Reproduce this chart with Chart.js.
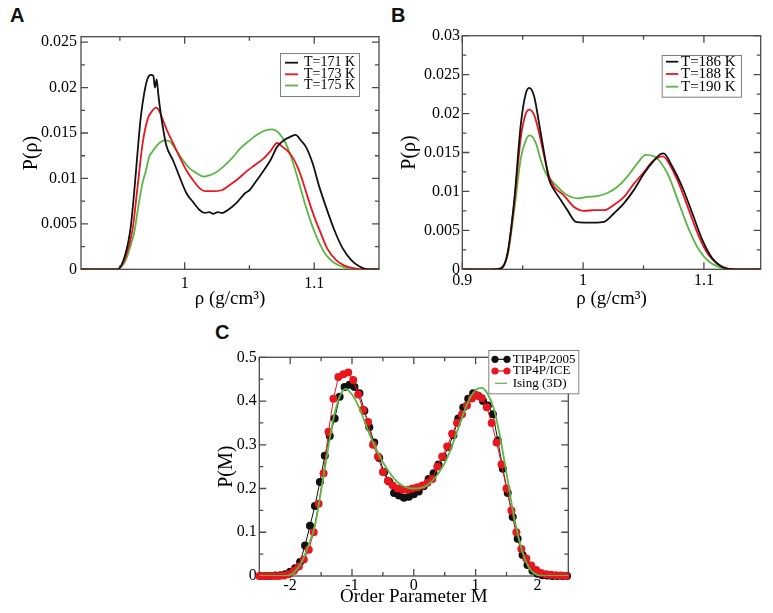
<!DOCTYPE html>
<html><head><meta charset="utf-8">
<script src="https://cdn.jsdelivr.net/npm/chart.js@4/dist/chart.umd.min.js"></script>
<style>
body{margin:0;width:773px;height:613px;background:#fff;position:relative;overflow:hidden;}
canvas{position:absolute;}
.lab{position:absolute;font:bold 20px "Liberation Sans",Arial,sans-serif;line-height:20px;color:#111;}
</style></head><body>
<div class="lab" style="left:10px;top:5px">A</div>
<div class="lab" style="left:391px;top:5px">B</div>
<div class="lab" style="left:215px;top:322px">C</div>
<canvas id="ca" width="390" height="312" style="left:0;top:0"></canvas>
<canvas id="cb" width="388" height="312" style="left:385px;top:0"></canvas>
<canvas id="cc" width="400" height="295" style="left:200px;top:318px"></canvas>
<script>
// ---------- Panel A data ----------
const rhoA171 = [0.92,0.948,0.9545,0.9584,0.961,0.9636,0.9662,0.9688,0.9714,0.974,0.9758,0.9771,0.9784,0.9797,0.9815,0.983,0.9857,0.991,0.996,1.0013,1.0065,1.0117,1.0156,1.019,1.022,1.0255,1.0286,1.035,1.04,1.0468,1.05,1.0532,1.0597,1.0662,1.0714,1.0766,1.0818,1.0857,1.0896,1.0935,1.0987,1.1039,1.109,1.1156,1.122,1.1286,1.135,1.1416,1.15];
const pA171   = [0,0,0.0018,0.0047,0.0084,0.0128,0.0168,0.0194,0.021,0.0214,0.0213,0.0200,0.0209,0.0192,0.0172,0.0158,0.0137,0.012,0.0102,0.0084,0.0074,0.0065,0.0062,0.0063,0.0061,0.0063,0.0062,0.0067,0.0073,0.0084,0.0087,0.0093,0.0106,0.012,0.0135,0.0142,0.0146,0.0148,0.0142,0.0135,0.0117,0.0091,0.0069,0.0043,0.0023,0.001,0.0003,0,0];
const rhoA173 = [0.92,0.948,0.9545,0.9597,0.9636,0.9675,0.9714,0.9753,0.978,0.9805,0.983,0.987,0.991,0.996,1.0013,1.0065,1.0117,1.0156,1.022,1.0286,1.035,1.0416,1.048,1.0545,1.061,1.0662,1.0714,1.0753,1.079,1.083,1.087,1.0909,1.0948,1.1,1.105,1.11,1.1169,1.1234,1.131,1.14,1.15];
const pA173   = [0,0,0.0014,0.0043,0.009,0.0138,0.0165,0.0175,0.0178,0.0174,0.0165,0.0151,0.0139,0.0124,0.0109,0.0098,0.0089,0.0086,0.0086,0.0087,0.0093,0.01,0.0108,0.0115,0.0122,0.013,0.0139,0.0135,0.0131,0.0124,0.0113,0.0098,0.008,0.0058,0.004,0.0023,0.001,0.0004,0.0001,0,0];
const rhoA175 = [0.92,0.948,0.9545,0.9597,0.961,0.9649,0.9675,0.97,0.9727,0.9753,0.9805,0.9844,0.9883,0.9935,0.9987,1.0039,1.0091,1.0143,1.0182,1.0234,1.0299,1.0364,1.0429,1.0494,1.0558,1.0623,1.0675,1.0727,1.0779,1.083,1.0883,1.0935,1.0987,1.1039,1.109,1.1156,1.1234,1.131,1.15];
const pA175   = [0,0,0.001,0.0033,0.004,0.0075,0.0095,0.0108,0.0124,0.013,0.0139,0.0142,0.0141,0.0131,0.012,0.0111,0.0106,0.0102,0.0103,0.0106,0.0113,0.0122,0.0133,0.0141,0.0148,0.0153,0.0154,0.015,0.0139,0.012,0.0095,0.0069,0.0047,0.0029,0.0016,0.0007,0.0002,0,0];
const labelsA = ['T=171 K','T=173 K','T=175 K'];
const xTickLabelsA = [1, 1.1];
const yTickLabelsA = [0, 0.005, 0.01, 0.015, 0.02, 0.025];
const xMinorA = [0.95, 1.05];
const yMinorA = [0.0025, 0.0075, 0.0125, 0.0175, 0.0225];

// ---------- Panel B data ----------
const rhoB186 = [0.9,0.925,0.932,0.9375,0.943,0.9485,0.9526,0.9554,0.9595,0.9636,0.9678,0.9719,0.976,0.9815,0.987,0.9939,1.0008,1.009,1.0174,1.0256,1.0339,1.0421,1.0504,1.0587,1.0642,1.0665,1.0738,1.082,1.0904,1.0986,1.1069,1.115,1.125,1.15];
const pB186   = [0,0,0.0001,0.0021,0.0089,0.0187,0.0226,0.0233,0.0222,0.0187,0.0149,0.0115,0.0102,0.0089,0.0076,0.0061,0.006,0.006,0.0061,0.0072,0.0085,0.0102,0.0123,0.014,0.0148,0.0149,0.0132,0.0106,0.0072,0.0038,0.0014,0.0003,0,0];
const rhoB188 = [0.9,0.925,0.932,0.9375,0.943,0.9485,0.9526,0.9554,0.9595,0.9636,0.9678,0.9719,0.976,0.984,0.9925,1.0008,1.009,1.0174,1.0256,1.0339,1.0421,1.0504,1.0559,1.0614,1.066,1.0711,1.0793,1.0876,1.0959,1.104,1.1124,1.12,1.13,1.15];
const pB188   = [0,0,0.0001,0.002,0.0085,0.017,0.02,0.0205,0.0198,0.0175,0.0145,0.0119,0.0106,0.0095,0.008,0.0075,0.0076,0.0076,0.0083,0.0093,0.011,0.0125,0.0136,0.0143,0.0145,0.0136,0.011,0.0076,0.0042,0.0018,0.0006,0.0001,0,0];
const rhoB190 = [0.9,0.925,0.932,0.9375,0.943,0.9485,0.9526,0.956,0.9609,0.965,0.9692,0.9733,0.9788,0.987,0.9953,1.0036,1.0118,1.0201,1.0284,1.0366,1.0449,1.0518,1.0587,1.0628,1.071,1.0793,1.0876,1.0959,1.104,1.1124,1.12,1.15];
const pB190   = [0,0,0.0002,0.0018,0.0076,0.0143,0.0166,0.0172,0.0162,0.014,0.0123,0.0115,0.0106,0.0095,0.0091,0.0093,0.0094,0.0098,0.0106,0.0119,0.0136,0.0147,0.0145,0.014,0.0119,0.0085,0.0051,0.0025,0.001,0.0003,0,0];
const labelsB = ['T=186 K','T=188 K','T=190 K'];
const xTickLabelsB = [0.9, 1, 1.1];
const yTickLabelsB = [0, 0.005, 0.01, 0.015, 0.02, 0.025, 0.03];
const xMinorB = [0.95, 1.05];
const yMinorB = [0.0025, 0.0075, 0.0125, 0.0175, 0.0225, 0.0275];

// ---------- Panel C data ----------
const mTip2005 = [-2.48,-2.40,-2.32,-2.24,-2.16,-2.08,-2.00,-1.92,-1.84,-1.76,-1.68,-1.60,-1.52,-1.44,-1.36,-1.28,-1.20,-1.12,-1.04,-0.96,-0.88,-0.80,-0.72,-0.64,-0.56,-0.48,-0.40,-0.32,-0.24,-0.16,-0.08,0.00,0.08,0.16,0.24,0.32,0.40,0.48,0.56,0.64,0.72,0.80,0.88,0.96,1.04,1.12,1.20,1.28,1.36,1.44,1.52,1.60,1.68,1.76,1.84,1.92,2.00,2.08,2.16,2.24,2.32,2.40,2.48];
const pTip2005 = [0,0,0,0.001,0.002,0.004,0.01,0.018,0.032,0.07,0.115,0.16,0.215,0.275,0.32,0.36,0.41,0.432,0.437,0.432,0.418,0.378,0.34,0.305,0.27,0.238,0.216,0.19,0.184,0.179,0.181,0.187,0.193,0.205,0.222,0.235,0.255,0.272,0.295,0.322,0.36,0.385,0.405,0.418,0.412,0.4,0.39,0.37,0.31,0.245,0.19,0.135,0.085,0.048,0.025,0.012,0.005,0.002,0.001,0,0,0,0];
const mTipIce = [-2.50,-2.42,-2.34,-2.26,-2.18,-2.10,-2.02,-1.94,-1.86,-1.78,-1.70,-1.62,-1.54,-1.46,-1.38,-1.30,-1.22,-1.14,-1.06,-0.98,-0.90,-0.82,-0.74,-0.66,-0.58,-0.50,-0.42,-0.34,-0.26,-0.18,-0.10,-0.02,0.06,0.14,0.22,0.30,0.38,0.46,0.54,0.62,0.70,0.78,0.86,0.94,1.02,1.10,1.18,1.26,1.34,1.42,1.50,1.58,1.66,1.74,1.82,1.90,1.98,2.06,2.14,2.22,2.30,2.38,2.46];
const pTipIce = [0,0,0,0,0,0.001,0.004,0.012,0.022,0.038,0.06,0.1,0.165,0.235,0.33,0.405,0.455,0.461,0.465,0.448,0.415,0.38,0.352,0.3,0.273,0.238,0.218,0.207,0.2,0.197,0.197,0.2,0.203,0.207,0.213,0.222,0.25,0.273,0.296,0.325,0.35,0.37,0.39,0.406,0.413,0.407,0.386,0.35,0.305,0.255,0.2,0.15,0.1,0.062,0.04,0.024,0.014,0.007,0.004,0.003,0.002,0.001,0];
const mIsing = [-2.5,-2.1,-2.0,-1.9,-1.8,-1.7,-1.6,-1.5,-1.4,-1.3,-1.2,-1.1,-1.0,-0.9,-0.8,-0.7,-0.6,-0.5,-0.4,-0.3,-0.2,-0.1,0,0.1,0.2,0.3,0.4,0.5,0.6,0.7,0.8,0.9,1.0,1.1,1.2,1.3,1.4,1.5,1.6,1.7,1.8,1.9,2.0,2.1,2.5];
const pIsing = [0,0,0.002,0.014,0.036,0.072,0.115,0.195,0.28,0.36,0.41,0.428,0.415,0.39,0.355,0.318,0.288,0.26,0.238,0.22,0.208,0.202,0.2,0.201,0.206,0.218,0.235,0.258,0.29,0.33,0.37,0.405,0.425,0.43,0.415,0.38,0.315,0.235,0.152,0.085,0.038,0.012,0.002,0,0];
const labelsC = ['TIP4P/2005','TIP4P/ICE','Ising (3D)'];
const xTickLabelsC = [-2, -1, 0, 1, 2];
const yTickLabelsC = [0, 0.1, 0.2, 0.3, 0.4, 0.5];
const xMinorC = [-2.5, -1.5, -0.5, 0.5, 1.5, 2.5];
const yMinorC = [0.05, 0.15, 0.25, 0.35, 0.45];

// ---------- styling ----------
const SERIF = "'Liberation Serif','Times New Roman',serif";
const BLACK = '#111111', RED = '#e8161e', GREEN = '#5cb544';
const zip = (xs, ys) => xs.map((x, i) => ({x, y: ys[i]}));
const fmt = v => String(+(+v).toFixed(4));

const framePlugin = {
  id: 'frame',
  beforeDatasetsDraw(chart, args, o) {
    const {ctx, chartArea: a} = chart;
    const xs = chart.scales.x, ys = chart.scales.y;
    ctx.save();
    ctx.strokeStyle = '#4a4a4a'; ctx.lineWidth = 1.3;
    ctx.beginPath();
    const seg = (x1, y1, x2, y2) => { ctx.moveTo(x1, y1); ctx.lineTo(x2, y2); };
    [[o.xMajor, 7], [o.xMinor, 4]].forEach(([vals, len]) => vals.forEach(v => {
      const p = xs.getPixelForValue(v);
      seg(p, a.bottom, p, a.bottom - len); seg(p, a.top, p, a.top + len);
    }));
    [[o.yMajor, 7], [o.yMinor, 4]].forEach(([vals, len]) => vals.forEach(v => {
      const p = ys.getPixelForValue(v);
      seg(a.left, p, a.left + len, p); seg(a.right, p, a.right - len, p);
    }));
    ctx.stroke();
    ctx.strokeRect(a.left, a.top, a.right - a.left, a.bottom - a.top);
    ctx.restore();
  }
};

const legendPlugin = {
  id: 'boxLegend',
  afterDatasetsDraw(chart, args, o) {
    const ctx = chart.ctx;
    ctx.save();
    ctx.fillStyle = '#fff';
    ctx.fillRect(o.x0, o.y0, o.x1 - o.x0, o.y1 - o.y0);
    ctx.strokeStyle = '#808080'; ctx.lineWidth = 1;
    ctx.strokeRect(o.x0 + 0.5, o.y0 + 0.5, o.x1 - o.x0, o.y1 - o.y0);
    chart.data.datasets.forEach((ds, i) => {
      const y = o.rows[i];
      ctx.strokeStyle = ds.borderColor; ctx.lineWidth = o.lw;
      ctx.beginPath(); ctx.moveTo(o.s0, y); ctx.lineTo(o.s1, y); ctx.stroke();
      if (ds.pointRadius > 0) {
        ctx.fillStyle = ds.borderColor;
        [o.s0, o.s1].forEach(px => { ctx.beginPath(); ctx.arc(px, y, 3.6, 0, Math.PI * 2); ctx.fill(); });
      }
      ctx.fillStyle = '#000'; ctx.font = o.font; ctx.textBaseline = 'middle'; ctx.textAlign = 'left';
      ctx.fillText(ds.label, o.tx, y);
    });
    ctx.restore();
  }
};

function lineDs(label, xs, ys, color) {
  return {label, data: zip(xs, ys), borderColor: color, backgroundColor: color, borderWidth: 1.8,
    pointRadius: 0, showLine: true, cubicInterpolationMode: 'monotone', fill: false};
}

function axes(o) {
  return {
    x: {type: 'linear', min: o.xmin, max: o.xmax,
      afterFit(s) { s.height = o.xH; },
      afterBuildTicks(s) { s.ticks = o.xLabels.map(v => ({value: v})); },
      ticks: {callback: fmt, font: {family: SERIF, size: 16}, color: '#000', padding: o.xPad, maxRotation: 0, autoSkip: false},
      grid: {display: false, drawTicks: false}, border: {display: false},
      title: {display: true, text: o.xTitle, font: {family: SERIF, size: o.xTitleSize}, color: '#000', padding: 0}},
    y: {type: 'linear', min: o.ymin, max: o.ymax,
      afterFit(s) { s.width = o.yW; },
      afterBuildTicks(s) { s.ticks = o.yLabels.map(v => ({value: v})); },
      ticks: {callback: fmt, font: {family: SERIF, size: 16}, color: '#000', padding: o.yPad, autoSkip: false},
      grid: {display: false, drawTicks: false}, border: {display: false},
      title: {display: true, text: o.yTitle, font: {family: SERIF, size: 20}, color: '#000', padding: 0}}
  };
}

const common = {responsive: false, animation: false, events: [],
  plugins: {legend: {display: false}, tooltip: {enabled: false}}};

// Panel A
new Chart(document.getElementById('ca'), {
  type: 'scatter',
  data: {datasets: [lineDs(labelsA[0], rhoA171, pA171, BLACK), lineDs(labelsA[1], rhoA173, pA173, RED), lineDs(labelsA[2], rhoA175, pA175, GREEN)]},
  options: Object.assign({}, common, {
    layout: {padding: {left: 20, top: 36.7, right: 11, bottom: 1.6}},
    scales: axes({xmin: 0.92, xmax: 1.15, ymin: 0, ymax: 0.0256, xLabels: xTickLabelsA, yLabels: yTickLabelsA,
      xH: 41.1, yW: 61, xPad: 5, yPad: 4, xTitle: 'ρ (g/cm³)', xTitleSize: 19, yTitle: 'P(ρ)'}),
    plugins: Object.assign({}, common.plugins, {
      frame: {xMajor: xTickLabelsA, xMinor: xMinorA, yMajor: yTickLabelsA, yMinor: yMinorA},
      boxLegend: {x0: 280, y0: 53, x1: 359, y1: 96, rows: [62.7, 74.3, 85.5], s0: 285, s1: 298, tx: 304, lw: 1.8, font: '14px ' + SERIF}
    })
  }),
  plugins: [framePlugin, legendPlugin]
});

// Panel B
new Chart(document.getElementById('cb'), {
  type: 'scatter',
  data: {datasets: [lineDs(labelsB[0], rhoB186, pB186, BLACK), lineDs(labelsB[1], rhoB188, pB188, RED), lineDs(labelsB[2], rhoB190, pB190, GREEN)]},
  options: Object.assign({}, common, {
    layout: {padding: {left: 13, top: 35.7, right: 12.3, bottom: 1.6}},
    scales: axes({xmin: 0.9, xmax: 1.147, ymin: 0, ymax: 0.03, xLabels: xTickLabelsB, yLabels: yTickLabelsB,
      xH: 41.1, yW: 64.3, xPad: 2, yPad: 2.3, xTitle: 'ρ (g/cm³)', xTitleSize: 19, yTitle: 'P(ρ)'}),
    plugins: Object.assign({}, common.plugins, {
      frame: {xMajor: xTickLabelsB, xMinor: xMinorB, yMajor: yTickLabelsB, yMinor: yMinorB},
      boxLegend: {x0: 276.7, y0: 55, x1: 356, y1: 96.7, rows: [61.7, 74, 86.7], s0: 281, s1: 293.3, tx: 296, lw: 1.8, font: '15px ' + SERIF}
    })
  }),
  plugins: [framePlugin, legendPlugin]
});

// Panel C
function dotDs(label, xs, ys, color, order) {
  return {label, data: zip(xs, ys), borderColor: color, backgroundColor: color, pointBackgroundColor: color,
    borderWidth: 1, pointRadius: 4, pointBorderWidth: 0, showLine: true, order, clip: false};
}
const ising = lineDs(labelsC[2], mIsing, pIsing, GREEN);
ising.order = 0; ising.borderWidth = 1.8;
new Chart(document.getElementById('cc'), {
  type: 'scatter',
  data: {datasets: [dotDs(labelsC[0], mTip2005, pTip2005, BLACK, 2), dotDs(labelsC[1], mTipIce, pTipIce, RED, 1), ising]},
  options: Object.assign({}, common, {
    layout: {padding: {left: 14.7, top: 39.3, right: 31.7, bottom: 4.3}},
    scales: axes({xmin: -2.5, xmax: 2.5, ymin: 0, ymax: 0.5, xLabels: xTickLabelsC, yLabels: yTickLabelsC,
      xH: 32.7, yW: 44.6, xPad: 0.5, yPad: 2.6, xTitle: 'Order Parameter M', xTitleSize: 19, yTitle: 'P(M)'}),
    plugins: Object.assign({}, common.plugins, {
      frame: {xMajor: xTickLabelsC, xMinor: xMinorC, yMajor: yTickLabelsC, yMinor: yMinorC},
      boxLegend: {x0: 288.3, y0: 32, x1: 378.3, y1: 75.3, rows: [41.3, 53, 65.3], s0: 295, s1: 307, tx: 312.7, lw: 1.2, font: '13px ' + SERIF}
    })
  }),
  plugins: [framePlugin, legendPlugin]
});
</script>
</body></html>
